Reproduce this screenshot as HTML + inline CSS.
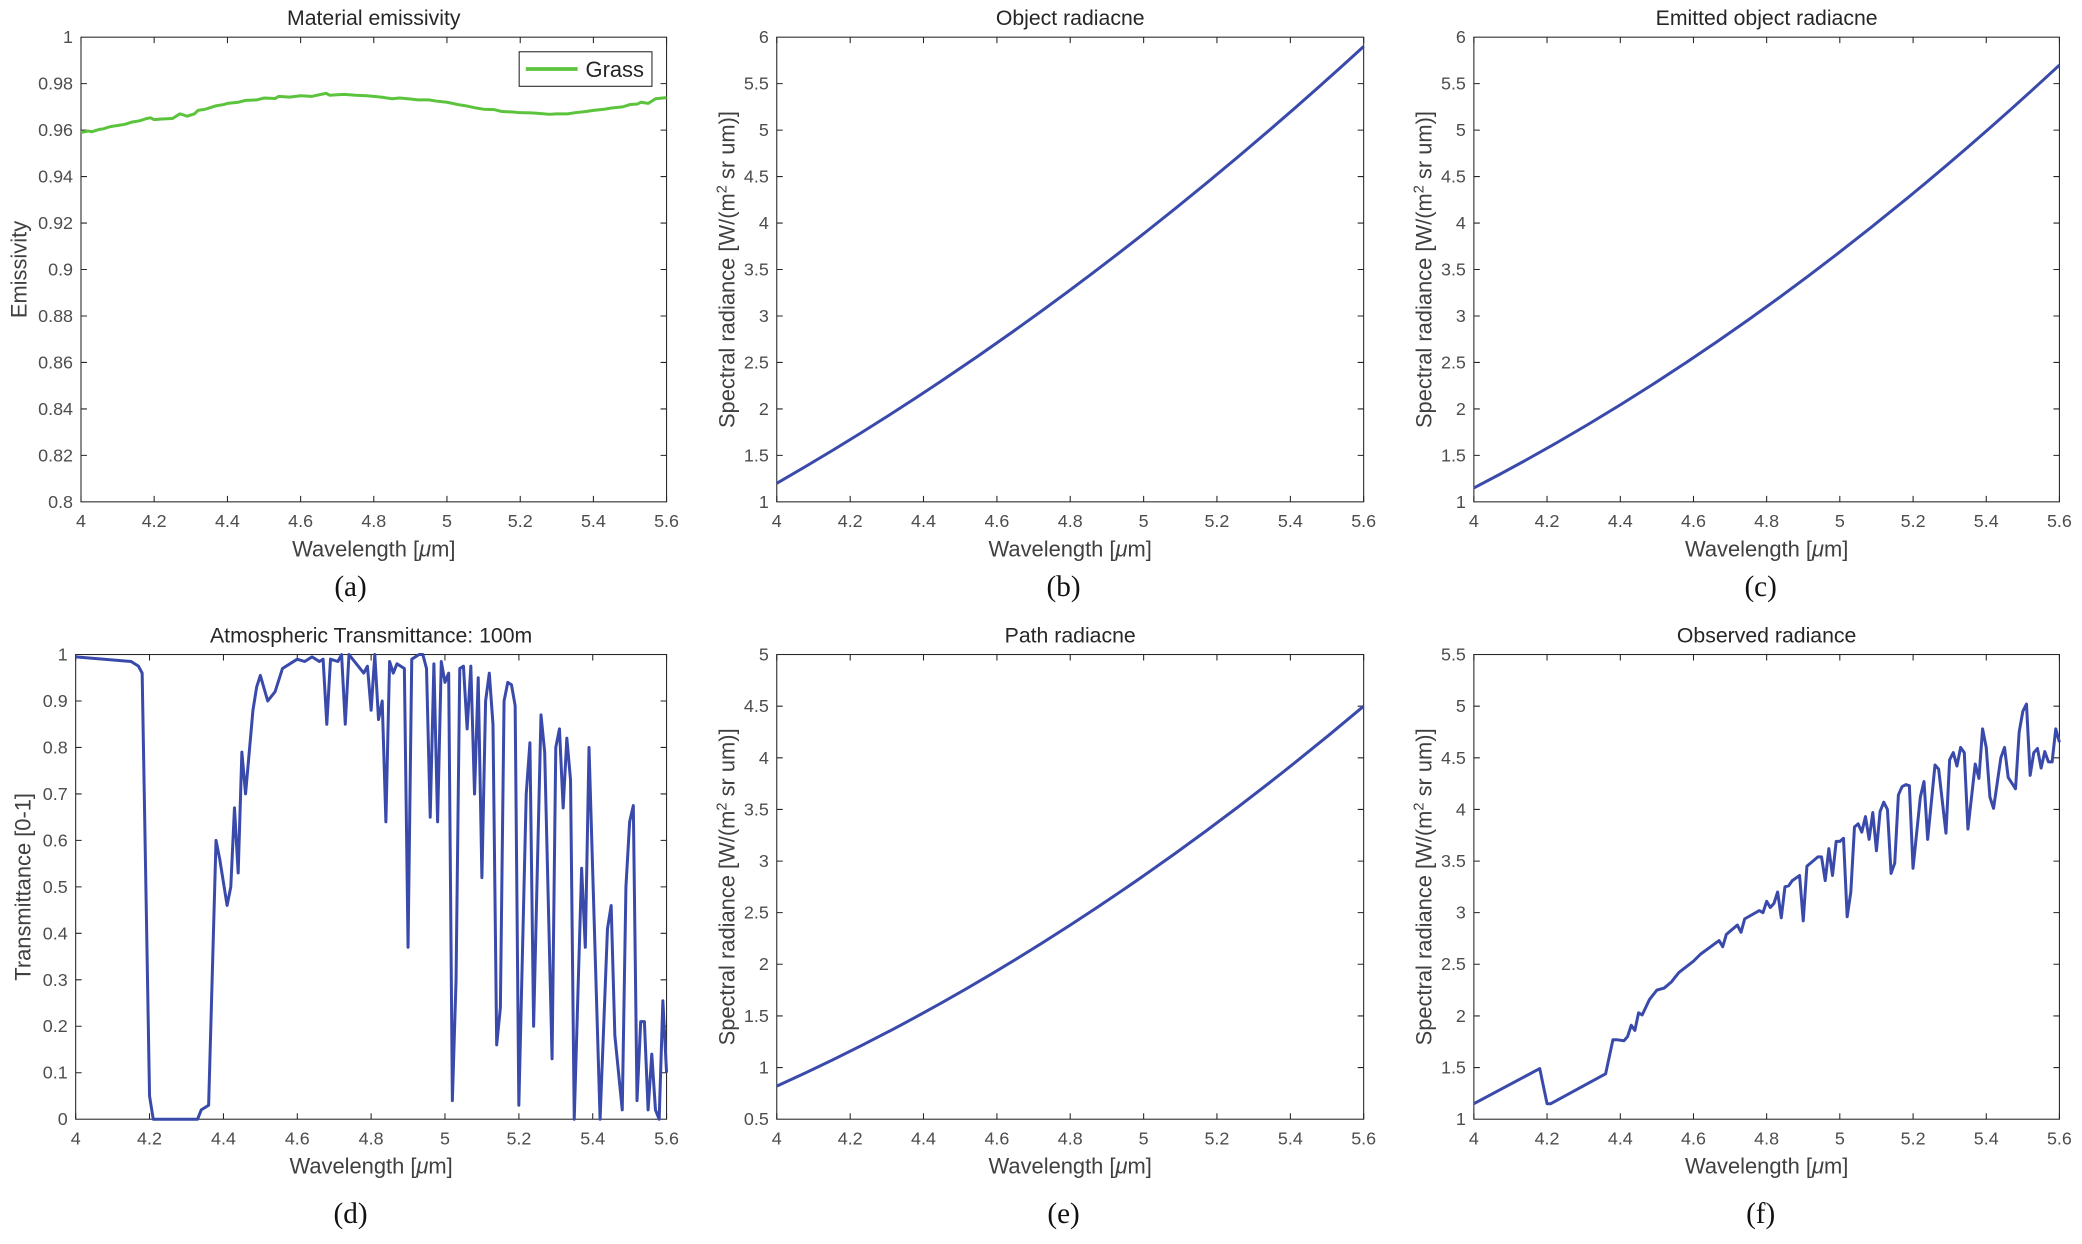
<!DOCTYPE html>
<html><head><meta charset="utf-8"><style>
html,body{margin:0;padding:0;background:#fff;}
svg{display:block;}
text{font-family:"Liberation Sans",sans-serif;fill:#4d4d4d;}
.yl{font-size:13.5px;text-anchor:end;}
.xl{font-size:13.5px;text-anchor:middle;}
.ti{font-size:16px;text-anchor:middle;fill:#262626;}
.lb{font-size:16.5px;text-anchor:middle;fill:#404040;}
.cap{font-family:"Liberation Serif",serif;font-size:22px;text-anchor:middle;fill:#111;}
.ax{fill:none;stroke:#262626;stroke-width:0.8;}
.tks{fill:none;stroke:#262626;stroke-width:0.8;}
.ln{fill:none;stroke:#3a4aab;stroke-width:3;vector-effect:non-scaling-stroke;stroke-linejoin:round;}
.gr{fill:none;stroke:#5cc43c;stroke-width:3;vector-effect:non-scaling-stroke;stroke-linejoin:round;}
</style></head><body>
<svg width="2082" height="1244" viewBox="0 0 1568 937" preserveAspectRatio="none" xmlns="http://www.w3.org/2000/svg">
<rect width="1568" height="937" fill="#fff"/>

<!-- ===== Panel a ===== -->
<rect class="ax" x="61" y="28" width="441" height="350"/>
<path class="tks" d="M61 378v-4.5M116.1 378v-4.5M171.3 378v-4.5M226.4 378v-4.5M281.5 378v-4.5M336.6 378v-4.5M391.8 378v-4.5M446.9 378v-4.5M502 378v-4.5
M61 28v4.5M116.1 28v4.5M171.3 28v4.5M226.4 28v4.5M281.5 28v4.5M336.6 28v4.5M391.8 28v4.5M446.9 28v4.5M502 28v4.5
M61 343h4.5M61 308h4.5M61 273h4.5M61 238h4.5M61 203h4.5M61 168h4.5M61 133h4.5M61 98h4.5M61 63h4.5
M502 343h-4.5M502 308h-4.5M502 273h-4.5M502 238h-4.5M502 203h-4.5M502 168h-4.5M502 133h-4.5M502 98h-4.5M502 63h-4.5"/>
<g class="yl"><text x="55" y="382.5">0.8</text><text x="55" y="347.5">0.82</text><text x="55" y="312.5">0.84</text><text x="55" y="277.5">0.86</text><text x="55" y="242.5">0.88</text><text x="55" y="207.5">0.9</text><text x="55" y="172.5">0.92</text><text x="55" y="137.5">0.94</text><text x="55" y="102.5">0.96</text><text x="55" y="67.5">0.98</text><text x="55" y="32.5">1</text></g>
<g class="xl"><text x="61" y="397">4</text><text x="116.1" y="397">4.2</text><text x="171.3" y="397">4.4</text><text x="226.4" y="397">4.6</text><text x="281.5" y="397">4.8</text><text x="336.6" y="397">5</text><text x="391.8" y="397">5.2</text><text x="446.9" y="397">5.4</text><text x="502" y="397">5.6</text></g>
<text class="ti" x="281.5" y="19">Material emissivity</text>
<text class="lb" x="281.5" y="419">Wavelength [<tspan font-style="italic">μ</tspan>m]</text>
<text class="lb" transform="translate(20,203) rotate(-90)">Emissivity</text>
<text class="cap" x="264" y="449">(a)</text>
<g transform="translate(61,378) scale(275.625,-1750) translate(-4,-0.8)">
<polyline class="gr" points="4,0.959 4.02,0.9596 4.03,0.9593 4.05,0.9603 4.06,0.9605 4.08,0.9615 4.1,0.962 4.12,0.9625 4.14,0.9635 4.16,0.964 4.18,0.965 4.19,0.9653 4.2,0.9645 4.22,0.9648 4.25,0.965 4.27,0.967 4.28,0.9665 4.29,0.966 4.31,0.967 4.32,0.9685 4.34,0.969 4.37,0.9705 4.39,0.971 4.4,0.9715 4.43,0.972 4.45,0.9728 4.48,0.973 4.5,0.9738 4.53,0.9736 4.54,0.9745 4.57,0.9742 4.6,0.9748 4.63,0.9745 4.65,0.9752 4.67,0.9758 4.68,0.975 4.7,0.9752 4.72,0.9754 4.75,0.975 4.78,0.9748 4.8,0.9745 4.82,0.9742 4.85,0.9735 4.87,0.9738 4.9,0.9734 4.92,0.973 4.95,0.973 4.97,0.9725 5,0.972 5.03,0.971 5.05,0.9705 5.08,0.9695 5.1,0.969 5.13,0.9688 5.15,0.968 5.18,0.9678 5.2,0.9675 5.23,0.9674 5.25,0.9672 5.28,0.9668 5.3,0.967 5.33,0.967 5.35,0.9675 5.38,0.968 5.4,0.9685 5.43,0.969 5.45,0.9695 5.48,0.970 5.5,0.971 5.52,0.9712 5.53,0.972 5.55,0.9715 5.57,0.9735 5.6,0.974"/>
</g>
<rect x="391" y="39" width="100" height="26" fill="#fff" stroke="#262626" stroke-width="0.8"/>
<line x1="396" y1="52" x2="435" y2="52" stroke="#5cc43c" stroke-width="2.8"/>
<text x="441" y="58" style="font-size:16.5px;fill:#262626">Grass</text>

<!-- ===== Panel b ===== -->
<rect class="ax" x="585" y="28" width="442" height="350"/>
<path class="tks" d="M585 378v-4.5M640.3 378v-4.5M695.5 378v-4.5M750.8 378v-4.5M806 378v-4.5M861.3 378v-4.5M916.5 378v-4.5M971.8 378v-4.5M1027 378v-4.5
M585 28v4.5M640.3 28v4.5M695.5 28v4.5M750.8 28v4.5M806 28v4.5M861.3 28v4.5M916.5 28v4.5M971.8 28v4.5M1027 28v4.5
M585 343h4.5M585 308h4.5M585 273h4.5M585 238h4.5M585 203h4.5M585 168h4.5M585 133h4.5M585 98h4.5M585 63h4.5
M1027 343h-4.5M1027 308h-4.5M1027 273h-4.5M1027 238h-4.5M1027 203h-4.5M1027 168h-4.5M1027 133h-4.5M1027 98h-4.5M1027 63h-4.5"/>
<g class="yl"><text x="579" y="382.5">1</text><text x="579" y="347.5">1.5</text><text x="579" y="312.5">2</text><text x="579" y="277.5">2.5</text><text x="579" y="242.5">3</text><text x="579" y="207.5">3.5</text><text x="579" y="172.5">4</text><text x="579" y="137.5">4.5</text><text x="579" y="102.5">5</text><text x="579" y="67.5">5.5</text><text x="579" y="32.5">6</text></g>
<g class="xl"><text x="585" y="397">4</text><text x="640.3" y="397">4.2</text><text x="695.5" y="397">4.4</text><text x="750.8" y="397">4.6</text><text x="806" y="397">4.8</text><text x="861.3" y="397">5</text><text x="916.5" y="397">5.2</text><text x="971.8" y="397">5.4</text><text x="1027" y="397">5.6</text></g>
<text class="ti" x="806" y="19">Object radiacne</text>
<text class="lb" x="806" y="419">Wavelength [<tspan font-style="italic">μ</tspan>m]</text>
<text class="lb" transform="translate(553,203) rotate(-90)">Spectral radiance [W/(m<tspan dy="-6" font-size="11">2</tspan><tspan dy="6"> sr um)]</tspan></text>
<text class="cap" x="801" y="449">(b)</text>
<path class="ln" d="M585 364 Q806 237.3 1027 35"/>

<!-- ===== Panel c ===== -->
<rect class="ax" x="1110" y="28" width="441" height="350"/>
<path class="tks" d="M1110 378v-4.5M1165.1 378v-4.5M1220.3 378v-4.5M1275.4 378v-4.5M1330.5 378v-4.5M1385.6 378v-4.5M1440.8 378v-4.5M1495.9 378v-4.5M1551 378v-4.5
M1110 28v4.5M1165.1 28v4.5M1220.3 28v4.5M1275.4 28v4.5M1330.5 28v4.5M1385.6 28v4.5M1440.8 28v4.5M1495.9 28v4.5M1551 28v4.5
M1110 343h4.5M1110 308h4.5M1110 273h4.5M1110 238h4.5M1110 203h4.5M1110 168h4.5M1110 133h4.5M1110 98h4.5M1110 63h4.5
M1551 343h-4.5M1551 308h-4.5M1551 273h-4.5M1551 238h-4.5M1551 203h-4.5M1551 168h-4.5M1551 133h-4.5M1551 98h-4.5M1551 63h-4.5"/>
<g class="yl"><text x="1104" y="382.5">1</text><text x="1104" y="347.5">1.5</text><text x="1104" y="312.5">2</text><text x="1104" y="277.5">2.5</text><text x="1104" y="242.5">3</text><text x="1104" y="207.5">3.5</text><text x="1104" y="172.5">4</text><text x="1104" y="137.5">4.5</text><text x="1104" y="102.5">5</text><text x="1104" y="67.5">5.5</text><text x="1104" y="32.5">6</text></g>
<g class="xl"><text x="1110" y="397">4</text><text x="1165.1" y="397">4.2</text><text x="1220.3" y="397">4.4</text><text x="1275.4" y="397">4.6</text><text x="1330.5" y="397">4.8</text><text x="1385.6" y="397">5</text><text x="1440.8" y="397">5.2</text><text x="1495.9" y="397">5.4</text><text x="1551" y="397">5.6</text></g>
<text class="ti" x="1330.5" y="19">Emitted object radiacne</text>
<text class="lb" x="1330.5" y="419">Wavelength [<tspan font-style="italic">μ</tspan>m]</text>
<text class="lb" transform="translate(1078,203) rotate(-90)">Spectral radiance [W/(m<tspan dy="-6" font-size="11">2</tspan><tspan dy="6"> sr um)]</tspan></text>
<text class="cap" x="1326" y="449">(c)</text>
<path class="ln" d="M1110 367.5 Q1330.5 253.8 1551 49"/>

<!-- ===== Panel d ===== -->
<rect class="ax" x="57" y="493" width="445" height="350"/>
<path class="tks" d="M57 843v-4.5M112.6 843v-4.5M168.3 843v-4.5M223.9 843v-4.5M279.5 843v-4.5M335.1 843v-4.5M390.8 843v-4.5M446.4 843v-4.5M502 843v-4.5
M57 493v4.5M112.6 493v4.5M168.3 493v4.5M223.9 493v4.5M279.5 493v4.5M335.1 493v4.5M390.8 493v4.5M446.4 493v4.5M502 493v4.5
M57 808h4.5M57 773h4.5M57 738h4.5M57 703h4.5M57 668h4.5M57 633h4.5M57 598h4.5M57 563h4.5M57 528h4.5
M502 808h-4.5M502 773h-4.5M502 738h-4.5M502 703h-4.5M502 668h-4.5M502 633h-4.5M502 598h-4.5M502 563h-4.5M502 528h-4.5"/>
<g class="yl"><text x="51" y="847.5">0</text><text x="51" y="812.5">0.1</text><text x="51" y="777.5">0.2</text><text x="51" y="742.5">0.3</text><text x="51" y="707.5">0.4</text><text x="51" y="672.5">0.5</text><text x="51" y="637.5">0.6</text><text x="51" y="602.5">0.7</text><text x="51" y="567.5">0.8</text><text x="51" y="532.5">0.9</text><text x="51" y="497.5">1</text></g>
<g class="xl"><text x="57" y="862">4</text><text x="112.6" y="862">4.2</text><text x="168.3" y="862">4.4</text><text x="223.9" y="862">4.6</text><text x="279.5" y="862">4.8</text><text x="335.1" y="862">5</text><text x="390.8" y="862">5.2</text><text x="446.4" y="862">5.4</text><text x="502" y="862">5.6</text></g>
<text class="ti" x="279.5" y="484">Atmospheric Transmittance: 100m</text>
<text class="lb" x="279.5" y="884">Wavelength [<tspan font-style="italic">μ</tspan>m]</text>
<text class="lb" transform="translate(23,668) rotate(-90)">Transmittance [0-1]</text>
<text class="cap" x="264" y="921">(d)</text>
<g transform="translate(57,843) scale(278.125,-350) translate(-4,0)">
<polyline class="ln" points="4,0.995 4.15,0.985 4.17,0.975 4.18,0.96 4.2,0.05 4.21,0 4.33,0 4.34,0.02 4.36,0.03 4.38,0.6 4.39,0.56 4.41,0.46 4.42,0.5 4.43,0.67 4.44,0.53 4.45,0.79 4.46,0.7 4.48,0.88 4.49,0.93 4.5,0.955 4.52,0.9 4.54,0.92 4.56,0.97 4.58,0.98 4.6,0.99 4.62,0.985 4.64,0.995 4.66,0.985 4.67,0.99 4.68,0.85 4.69,0.99 4.71,0.985 4.72,1 4.73,0.85 4.74,1 4.76,0.98 4.78,0.96 4.79,0.975 4.8,0.88 4.81,1 4.82,0.86 4.83,0.9 4.84,0.64 4.85,0.985 4.86,0.96 4.87,0.98 4.89,0.97 4.9,0.37 4.91,0.99 4.93,1 4.94,1 4.95,0.97 4.96,0.65 4.97,0.98 4.98,0.64 4.99,0.985 5,0.94 5.01,0.96 5.02,0.04 5.03,0.3 5.04,0.97 5.05,0.975 5.06,0.84 5.07,0.975 5.08,0.7 5.09,0.95 5.1,0.52 5.11,0.9 5.12,0.96 5.13,0.85 5.14,0.16 5.15,0.24 5.16,0.9 5.17,0.94 5.18,0.935 5.19,0.89 5.2,0.03 5.22,0.7 5.23,0.81 5.24,0.2 5.26,0.87 5.27,0.79 5.29,0.13 5.3,0.8 5.31,0.84 5.32,0.67 5.33,0.82 5.34,0.73 5.35,0 5.37,0.54 5.38,0.37 5.39,0.8 5.42,0 5.44,0.41 5.45,0.46 5.46,0.18 5.48,0.02 5.49,0.5 5.5,0.64 5.51,0.675 5.52,0.04 5.53,0.21 5.54,0.21 5.55,0.02 5.56,0.14 5.57,0.02 5.58,0 5.59,0.255 5.6,0.1"/>
</g>

<!-- ===== Panel e ===== -->
<rect class="ax" x="585" y="493" width="442" height="350"/>
<path class="tks" d="M585 843v-4.5M640.3 843v-4.5M695.5 843v-4.5M750.8 843v-4.5M806 843v-4.5M861.3 843v-4.5M916.5 843v-4.5M971.8 843v-4.5M1027 843v-4.5
M585 493v4.5M640.3 493v4.5M695.5 493v4.5M750.8 493v4.5M806 493v4.5M861.3 493v4.5M916.5 493v4.5M971.8 493v4.5M1027 493v4.5
M585 804.1h4.5M585 765.2h4.5M585 726.3h4.5M585 687.4h4.5M585 648.6h4.5M585 609.7h4.5M585 570.8h4.5M585 531.9h4.5
M1027 804.1h-4.5M1027 765.2h-4.5M1027 726.3h-4.5M1027 687.4h-4.5M1027 648.6h-4.5M1027 609.7h-4.5M1027 570.8h-4.5M1027 531.9h-4.5"/>
<g class="yl"><text x="579" y="847.5">0.5</text><text x="579" y="808.6">1</text><text x="579" y="769.7">1.5</text><text x="579" y="730.8">2</text><text x="579" y="691.9">2.5</text><text x="579" y="653.1">3</text><text x="579" y="614.2">3.5</text><text x="579" y="575.3">4</text><text x="579" y="536.4">4.5</text><text x="579" y="497.5">5</text></g>
<g class="xl"><text x="585" y="862">4</text><text x="640.3" y="862">4.2</text><text x="695.5" y="862">4.4</text><text x="750.8" y="862">4.6</text><text x="806" y="862">4.8</text><text x="861.3" y="862">5</text><text x="916.5" y="862">5.2</text><text x="971.8" y="862">5.4</text><text x="1027" y="862">5.6</text></g>
<text class="ti" x="806" y="484">Path radiacne</text>
<text class="lb" x="806" y="884">Wavelength [<tspan font-style="italic">μ</tspan>m]</text>
<text class="lb" transform="translate(553,668) rotate(-90)">Spectral radiance [W/(m<tspan dy="-6" font-size="11">2</tspan><tspan dy="6"> sr um)]</tspan></text>
<text class="cap" x="801" y="921">(e)</text>
<path class="ln" d="M585 818.1 Q806 718.6 1027 531.9"/>

<!-- ===== Panel f ===== -->
<rect class="ax" x="1110" y="493" width="441" height="350"/>
<path class="tks" d="M1110 843v-4.5M1165.1 843v-4.5M1220.3 843v-4.5M1275.4 843v-4.5M1330.5 843v-4.5M1385.6 843v-4.5M1440.8 843v-4.5M1495.9 843v-4.5M1551 843v-4.5
M1110 493v4.5M1165.1 493v4.5M1220.3 493v4.5M1275.4 493v4.5M1330.5 493v4.5M1385.6 493v4.5M1440.8 493v4.5M1495.9 493v4.5M1551 493v4.5
M1110 804.1h4.5M1110 765.2h4.5M1110 726.3h4.5M1110 687.4h4.5M1110 648.6h4.5M1110 609.7h4.5M1110 570.8h4.5M1110 531.9h4.5
M1551 804.1h-4.5M1551 765.2h-4.5M1551 726.3h-4.5M1551 687.4h-4.5M1551 648.6h-4.5M1551 609.7h-4.5M1551 570.8h-4.5M1551 531.9h-4.5"/>
<g class="yl"><text x="1104" y="847.5">1</text><text x="1104" y="808.6">1.5</text><text x="1104" y="769.7">2</text><text x="1104" y="730.8">2.5</text><text x="1104" y="691.9">3</text><text x="1104" y="653.1">3.5</text><text x="1104" y="614.2">4</text><text x="1104" y="575.3">4.5</text><text x="1104" y="536.4">5</text><text x="1104" y="497.5">5.5</text></g>
<g class="xl"><text x="1110" y="862">4</text><text x="1165.1" y="862">4.2</text><text x="1220.3" y="862">4.4</text><text x="1275.4" y="862">4.6</text><text x="1330.5" y="862">4.8</text><text x="1385.6" y="862">5</text><text x="1440.8" y="862">5.2</text><text x="1495.9" y="862">5.4</text><text x="1551" y="862">5.6</text></g>
<text class="ti" x="1330.5" y="484">Observed radiance</text>
<text class="lb" x="1330.5" y="884">Wavelength [<tspan font-style="italic">μ</tspan>m]</text>
<text class="lb" transform="translate(1078,668) rotate(-90)">Spectral radiance [W/(m<tspan dy="-6" font-size="11">2</tspan><tspan dy="6"> sr um)]</tspan></text>
<text class="cap" x="1326" y="921">(f)</text>
<g transform="translate(1110,843) scale(275.625,-77.78) translate(-4,-1)">
<polyline class="ln" points="4,1.15 4.18,1.49 4.2,1.15 4.21,1.15 4.36,1.44 4.38,1.77 4.39,1.77 4.41,1.76 4.42,1.8 4.43,1.91 4.44,1.86 4.45,2.03 4.46,2.01 4.48,2.16 4.5,2.25 4.52,2.27 4.54,2.33 4.56,2.42 4.6,2.53 4.62,2.6 4.67,2.73 4.68,2.67 4.69,2.79 4.72,2.88 4.73,2.81 4.74,2.94 4.78,3.02 4.79,3.0 4.8,3.11 4.81,3.05 4.82,3.09 4.83,3.2 4.84,2.95 4.85,3.25 4.86,3.26 4.87,3.31 4.89,3.36 4.9,2.92 4.91,3.45 4.92,3.48 4.94,3.54 4.95,3.54 4.96,3.31 4.97,3.62 4.98,3.36 4.99,3.69 5.0,3.69 5.01,3.72 5.02,2.96 5.03,3.2 5.04,3.83 5.05,3.86 5.06,3.78 5.07,3.93 5.08,3.71 5.09,3.97 5.1,3.6 5.11,3.98 5.12,4.07 5.13,4.0 5.14,3.38 5.15,3.48 5.16,4.14 5.17,4.22 5.18,4.24 5.19,4.23 5.2,3.43 5.22,4.12 5.23,4.27 5.24,3.71 5.26,4.43 5.27,4.39 5.29,3.77 5.3,4.48 5.31,4.55 5.32,4.42 5.33,4.6 5.34,4.55 5.35,3.81 5.37,4.44 5.38,4.3 5.39,4.78 5.4,4.6 5.41,4.12 5.42,4.01 5.44,4.5 5.45,4.6 5.46,4.31 5.48,4.2 5.49,4.75 5.5,4.95 5.51,5.02 5.52,4.33 5.53,4.55 5.54,4.59 5.55,4.4 5.56,4.56 5.57,4.46 5.58,4.46 5.59,4.78 5.6,4.65"/>
</g>
</svg>
</body></html>
